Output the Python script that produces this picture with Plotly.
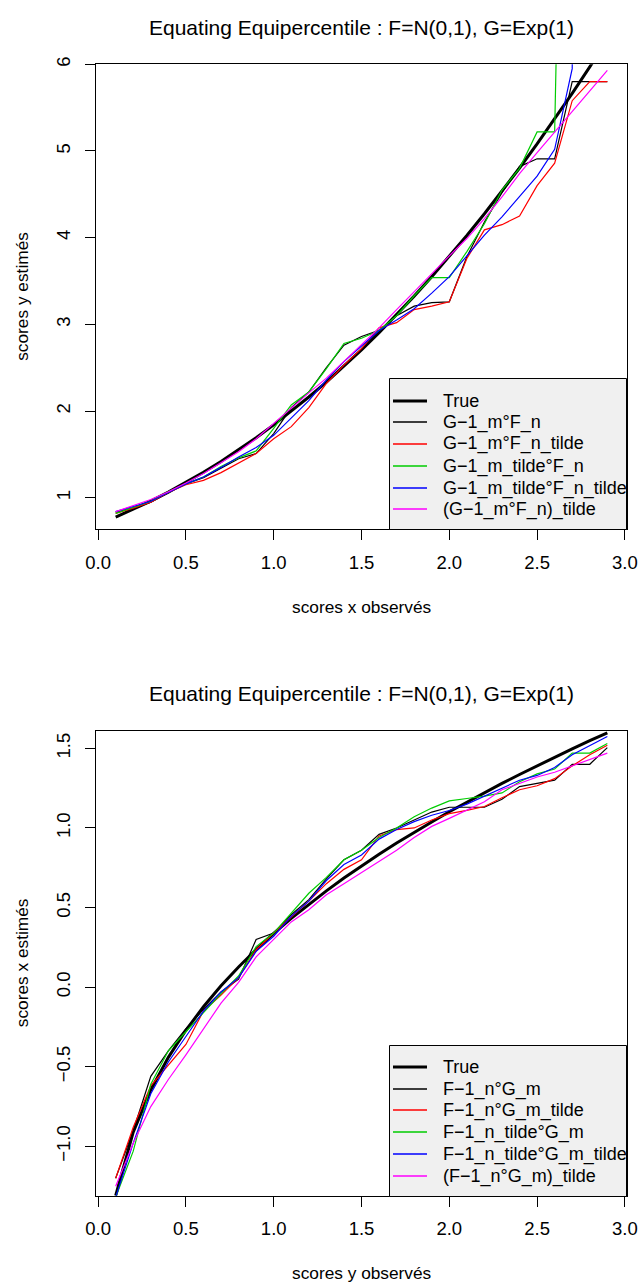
import plotly.graph_objects as go

# ---------------- data ----------------
x_obs = [0.1, 0.2, 0.3, 0.4, 0.5, 0.6, 0.7, 0.8, 0.9, 1.0, 1.1, 1.2, 1.3, 1.4, 1.5,
         1.6, 1.7, 1.8, 1.9, 2.0, 2.1, 2.2, 2.3, 2.4, 2.5, 2.6, 2.7, 2.8, 2.9]

# top panel : estimated y scores
top_true = [0.776, 0.866, 0.962, 1.065, 1.176, 1.294, 1.419, 1.552, 1.693, 1.841,
            1.998, 2.162, 2.335, 2.516, 2.706, 2.904, 3.111, 3.326, 3.550, 3.783,
            4.025, 4.276, 4.536, 4.804, 5.082, 5.369, 5.665, 5.970, 6.284]
top_g_f = [0.835, 0.88, 0.95, 1.06, 1.16, 1.23, 1.34, 1.45, 1.51, 1.74,
           2.04, 2.22, 2.50, 2.76, 2.86, 2.93, 3.10, 3.21, 3.25, 3.26,
           3.78, 4.18, 4.52, 4.82, 4.91, 4.91, 5.80, 5.80, 5.80]
top_g_ft = [0.82, 0.88, 0.95, 1.06, 1.15, 1.20, 1.29, 1.40, 1.51, 1.68,
            1.82, 2.04, 2.32, 2.53, 2.72, 2.96, 3.02, 3.17, 3.21, 3.26,
            3.76, 4.09, 4.15, 4.25, 4.60, 4.86, 5.58, 5.80, 5.80]
top_gt_f = [0.82, 0.89, 0.96, 1.07, 1.16, 1.24, 1.36, 1.46, 1.54, 1.80,
            2.07, 2.22, 2.49, 2.78, 2.84, 2.93, 3.10, 3.33, 3.54, 3.54,
            3.84, 4.16, 4.55, 4.80, 5.22, 5.22, 25.0, 25.0, 25.0]
top_gt_ft = [0.84, 0.90, 0.96, 1.06, 1.16, 1.24, 1.35, 1.47, 1.58, 1.72,
             1.92, 2.12, 2.36, 2.57, 2.75, 2.93, 3.05, 3.18, 3.36, 3.55,
             3.79, 4.03, 4.24, 4.47, 4.71, 5.02, 5.95, 30.0, 30.0]
top_smooth = [0.84, 0.91, 0.98, 1.07, 1.17, 1.28, 1.40, 1.53, 1.68, 1.86,
              2.04, 2.21, 2.38, 2.57, 2.76, 2.96, 3.17, 3.38, 3.59, 3.79,
              3.99, 4.22, 4.47, 4.74, 4.98, 5.22, 5.45, 5.70, 5.93]

# bottom panel : estimated x scores
bot_true = [-1.309, -0.911, -0.646, -0.441, -0.271, -0.123, 0.009, 0.127, 0.236, 0.338,
            0.432, 0.521, 0.605, 0.686, 0.762, 0.835, 0.905, 0.973, 1.038, 1.102,
            1.162, 1.221, 1.280, 1.336, 1.391, 1.445, 1.497, 1.548, 1.598]
bot_f_g = [-1.20, -0.90, -0.56, -0.40, -0.26, -0.14, -0.03, 0.05, 0.30, 0.34,
           0.455, 0.55, 0.68, 0.80, 0.86, 0.96, 1.00, 1.05, 1.10, 1.13,
           1.13, 1.13, 1.18, 1.26, 1.28, 1.30, 1.40, 1.40, 1.505]
bot_f_gt = [-1.20, -0.88, -0.62, -0.49, -0.36, -0.15, -0.05, 0.06, 0.235, 0.34,
            0.44, 0.54, 0.65, 0.74, 0.80, 0.95, 0.99, 1.00, 1.05, 1.09,
            1.11, 1.135, 1.19, 1.24, 1.265, 1.31, 1.39, 1.46, 1.52]
bot_ft_g = [-1.32, -1.03, -0.61, -0.40, -0.28, -0.16, -0.04, 0.07, 0.255, 0.34,
            0.465, 0.59, 0.69, 0.80, 0.86, 0.94, 1.00, 1.07, 1.125, 1.17,
            1.185, 1.20, 1.22, 1.29, 1.34, 1.37, 1.47, 1.47, 1.53]
bot_ft_gt = [-1.32, -0.98, -0.67, -0.47, -0.31, -0.15, -0.03, 0.06, 0.225, 0.32,
             0.445, 0.54, 0.67, 0.77, 0.83, 0.93, 0.99, 1.04, 1.08, 1.11,
             1.15, 1.20, 1.245, 1.30, 1.33, 1.38, 1.46, 1.52, 1.575]
bot_smooth = [-1.25, -0.98, -0.75, -0.58, -0.425, -0.26, -0.10, 0.03, 0.19, 0.30,
              0.41, 0.486, 0.58, 0.65, 0.72, 0.79, 0.86, 0.94, 1.01, 1.06,
              1.11, 1.165, 1.24, 1.28, 1.32, 1.35, 1.39, 1.43, 1.47]

top_names = ["True", "G\u22121_m°F_n", "G\u22121_m°F_n_tilde", "G\u22121_m_tilde°F_n",
             "G\u22121_m_tilde°F_n_tilde", "(G\u22121_m°F_n)_tilde"]
bot_names = ["True", "F\u22121_n°G_m", "F\u22121_n°G_m_tilde", "F\u22121_n_tilde°G_m",
             "F\u22121_n_tilde°G_m_tilde", "(F\u22121_n°G_m)_tilde"]
colors = ["#000000", "#000000", "#FF0000", "#00CD00", "#0000FF", "#FF00FF"]
widths = [3, 1.2, 1.2, 1.2, 1.2, 1.2]
leg_widths = [3, 1.5, 1.5, 1.5, 1.5, 1.5]

top_series = [top_true, top_g_f, top_g_ft, top_gt_f, top_gt_ft, top_smooth]
bot_series = [bot_true, bot_f_g, bot_f_gt, bot_ft_g, bot_ft_gt, bot_smooth]

title_text = "Equating Equipercentile : F=N(0,1), G=Exp(1)"

# ---------------- figure ----------------
W, H = 640, 1284
FONT = "Liberation Sans, Arial, sans-serif"
OFF = 666.4  # vertical offset between the two panels (px)

def py(p):  # pixel from top -> paper y
    return 1 - p / H

fig = go.Figure()
for ys, nm, c, w in zip(top_series, top_names, colors, widths):
    fig.add_trace(go.Scatter(x=x_obs, y=ys, mode="lines", name=nm,
                             line=dict(color=c, width=w),
                             xaxis="x", yaxis="y", showlegend=False))
for ys, nm, c, w in zip(bot_series, bot_names, colors, widths):
    fig.add_trace(go.Scatter(x=x_obs, y=ys, mode="lines", name=nm,
                             line=dict(color=c, width=w),
                             xaxis="x2", yaxis="y2", showlegend=False))

xdom = [96 / W, 627 / W]
top_dom = [py(529.3), py(64.3)]
bot_dom = [py(529.3 + OFF), py(64.3 + OFF)]

axis_common = dict(showgrid=False, zeroline=False, showline=True, mirror=True,
                   linecolor="black", linewidth=1, ticks="outside", ticklen=10,
                   tickcolor="black", tickwidth=1, automargin=False,
                   tickfont=dict(family=FONT, size=18.5, color="black"))

fig.update_layout(
    width=W, height=H, margin=dict(l=0, r=0, t=0, b=0),
    paper_bgcolor="white", plot_bgcolor="white",
    font=dict(family=FONT, color="black"),
    showlegend=False,
    xaxis=dict(domain=xdom, anchor="y", range=[-0.012, 3.012],
               tickvals=[0, 0.5, 1, 1.5, 2, 2.5, 3], tickformat=".1f",
               ticklabelstandoff=6, **axis_common),
    yaxis=dict(domain=top_dom, anchor="x", range=[0.636, 6.0],
               tickvals=[1, 2, 3, 4, 5, 6], tickangle=-90,
               ticklabelstandoff=8, **axis_common),
    xaxis2=dict(domain=xdom, anchor="y2", range=[-0.012, 3.012],
                tickvals=[0, 0.5, 1, 1.5, 2, 2.5, 3], tickformat=".1f",
                ticklabelstandoff=6, **axis_common),
    yaxis2=dict(domain=bot_dom, anchor="x2", range=[-1.31, 1.611],
                tickvals=[-1.0, -0.5, 0.0, 0.5, 1.0, 1.5], tickformat=".1f",
                tickangle=-90, ticklabelstandoff=8, **axis_common),
)

ann_font_title = dict(family=FONT, size=21, color="black")
ann_font_lab = dict(family=FONT, size=17.3, color="black")
ann_font_leg = dict(family=FONT, size=18, color="black")
cx = (96 + 627) / 2 / W
annotations = []
shapes = []
for k, (names, xlab, ylab) in enumerate([
        (top_names, "scores x observés", "scores y estimés"),
        (bot_names, "scores y observés", "scores x estimés")]):
    o = k * OFF
    annotations += [
        dict(text=title_text, x=cx, y=py(27 + o), xref="paper", yref="paper",
             xanchor="center", yanchor="middle", showarrow=False, font=ann_font_title),
        dict(text=xlab, x=cx, y=py(606.7 + o), xref="paper", yref="paper",
             xanchor="center", yanchor="middle", showarrow=False, font=ann_font_lab),
        dict(text=ylab, x=22 / W, y=py((64.3 + 529.3) / 2 + o), xref="paper",
             yref="paper", xanchor="center", yanchor="middle", textangle=-90,
             showarrow=False, font=ann_font_lab),
    ]
    # legend box (R style)
    shapes.append(dict(type="rect", xref="paper", yref="paper",
                       x0=389.5 / W, x1=626.5 / W,
                       y0=py(round(529.3 + o) + 0.5), y1=py(round(378.3 + o) + 0.5),
                       fillcolor="#F0F0F0", line=dict(color="black", width=1),
                       layer="above"))
    for i, (nm, c, w) in enumerate(zip(names, colors, leg_widths)):
        pix = round(400.7 + 21.7 * i + o)
        yy = py(pix)
        shapes.append(dict(type="line", xref="paper", yref="paper",
                           x0=393 / W, x1=427 / W, y0=yy, y1=yy,
                           line=dict(color=c, width=w), layer="above"))
        annotations.append(dict(text=nm, x=441 / W, y=yy, xref="paper", yref="paper",
                                xanchor="left", yanchor="middle", showarrow=False,
                                font=ann_font_leg))

fig.update_layout(annotations=annotations, shapes=shapes)

fig.write_html("out.html")
